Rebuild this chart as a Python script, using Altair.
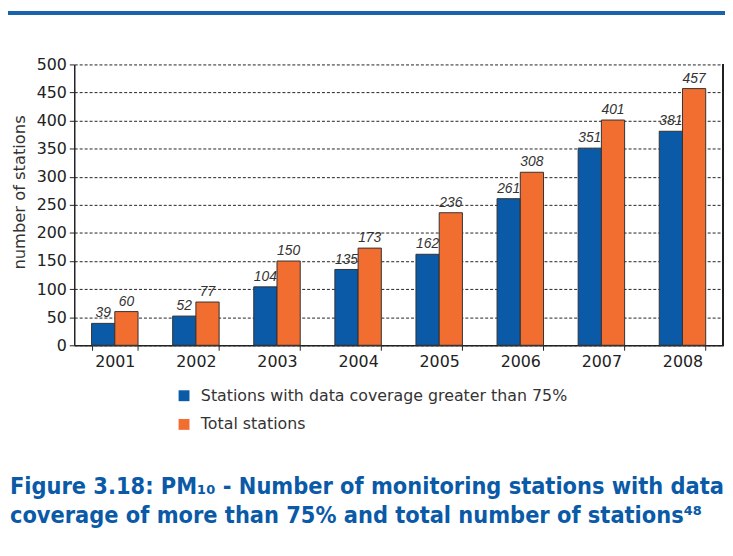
import altair as alt
import pandas as pd

years = ["2001", "2002", "2003", "2004", "2005", "2006", "2007", "2008"]
coverage = [39, 52, 104, 135, 162, 261, 351, 381]
total = [60, 77, 150, 173, 236, 308, 401, 457]
series = ["Stations with data coverage greater than 75%", "Total stations"]
y_ticks = [0, 50, 100, 150, 200, 250, 300, 350, 400, 450, 500]

rows = []
for i, yr in enumerate(years):
    rows.append({"year": yr, "series": series[0], "value": coverage[i]})
    rows.append({"year": yr, "series": series[1], "value": total[i]})
df = pd.DataFrame(rows)

BLUE = "#0b5aa8"
ORANGE = "#f26d30"
FONT = "DejaVu Sans"

W, H = 656, 284
PL, PT = 67, 54

x_enc = alt.X("year:N", sort=years, title=None,
              scale=alt.Scale(paddingInner=0.427, paddingOuter=0.2135),
              axis=alt.Axis(labelAngle=0, tickBand="extent", tickSize=5,
                            tickColor="#222", domainColor="#222", domainWidth=1.5,
                            labelFont=FONT, labelFontSize=16, labelColor="#222",
                            labelPadding=3, grid=False))
y_enc = alt.Y("value:Q", title="number of stations",
              scale=alt.Scale(domain=[0, 500], nice=False),
              axis=alt.Axis(values=y_ticks, tickSize=5, tickColor="#222",
                            domainColor="#222", domainWidth=1.5, labelOverlap=False,
                            labelFont=FONT, labelFontSize=16, labelColor="#222",
                            labelPadding=3,
                            grid=True, gridColor="#222", gridDash=[3, 2], gridWidth=1,
                            titleFont=FONT, titleFontSize=16.5, titleFontWeight="normal",
                            titleColor="#333", titlePadding=9, titleY=129))
xo = alt.XOffset("series:N", sort=series, scale=alt.Scale(paddingInner=0, paddingOuter=0))

bars = alt.Chart(df).mark_bar(stroke="#333", strokeWidth=1).encode(
    x=x_enc, y=y_enc, xOffset=xo,
    color=alt.Color("series:N", sort=series, title=None,
                    scale=alt.Scale(domain=series, range=[BLUE, ORANGE]),
                    legend=alt.Legend(orient="none", legendX=103, legendY=327,
                                      symbolType="square", symbolSize=121,
                                      symbolStrokeWidth=0, labelFont=FONT,
                                      labelFontSize=16, labelColor="#333",
                                      labelLimit=600,
                                      rowPadding=13, padding=0, labelOffset=9)),
)

labels = alt.Chart(df).mark_text(dy=-3, baseline="bottom", font="Liberation Sans",
                                 fontSize=14, fontStyle="italic", color="#333").encode(
    x=x_enc, y=y_enc, xOffset=xo, text="value:Q"
)

right_border = alt.Chart(df).mark_rule(color="#222", strokeWidth=1.2).encode(
    x=alt.value(W), y=alt.value(0), y2=alt.value(H)
)
top_line = alt.Chart(df).mark_rule(color="#1a63ab", strokeWidth=3).encode(
    x=alt.value(-PL), x2=alt.value(W + 2), y=alt.value(-PT + 2)
)

chart = alt.layer(bars, labels, right_border, top_line).properties(
    width=W, height=H,
    autosize=alt.AutoSizeParams(type="none"),
    padding={"left": PL, "top": PT, "right": 2, "bottom": 210},
    title=alt.Title(
        text=["Figure 3.18: PM\u2081\u2080 - Number of monitoring stations with data",
              "coverage of more than 75% and total number of stations\u2074\u2078"],
        orient="bottom", anchor="start", frame="group", dx=-65, offset=43,
        font="DejaVu Sans Condensed, Roboto, sans-serif", fontSize=23.6, fontWeight="bold",
        color="#0a5aa8", lineHeight=30),
).configure_view(stroke=None)

chart.save("out.html", embed_options={"renderer": "svg", "actions": False})
